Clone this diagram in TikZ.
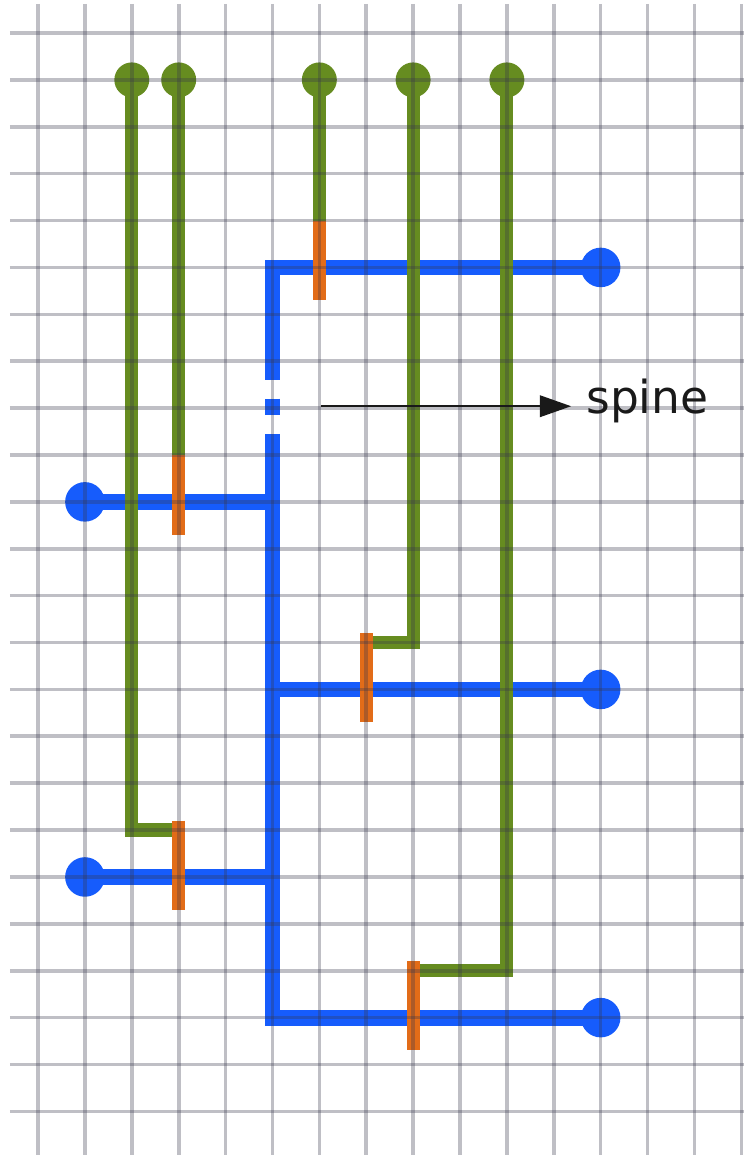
\documentclass[tikz,border=0pt]{standalone}
\usepackage{fontspec}
\setmainfont{DejaVu Sans}
\usetikzlibrary{arrows.meta}
\definecolor{wireblue}{RGB}{22,92,252}
\definecolor{wiregreen}{RGB}{102,140,32}
\definecolor{tickorange}{RGB}{226,108,24}
\definecolor{gridgray}{RGB}{55,55,75}
\tikzset{
  gridline/.style={draw=gridgray, opacity=0.32, line width=1.1pt},
  bpin/.style={circle, fill=wireblue, minimum size=12pt, inner sep=0pt},
  gpin/.style={circle, fill=wiregreen, minimum size=10.6pt, inner sep=0pt},
  wire/.style={draw=wireblue, line width=4.8pt, miter limit=4},
  trace/.style={draw=wiregreen, line width=4pt},
  tick/.style={draw=tickorange, line width=4pt},
  pointer/.style={-{Triangle[length=9.5pt,width=6.5pt]}, line width=0.7pt, draw=black!90},
  tag/.style={inner sep=0pt, font=\fontsize{13.8}{16}\selectfont, text=black!90}
}

\begin{document}
\begin{tikzpicture}[x=0.5cm,y=-0.5cm]
  \useasboundingbox (-0.811,-0.704) rectangle (15.05,23.93);
  % pins
  \node[bpin] (b1) at (12,5) {};
  \node[bpin] (b2) at (1,10) {};
  \node[bpin] (b3) at (12,14) {};
  \node[bpin] (b4) at (1,18) {};
  \node[bpin] (b5) at (12,21) {};
  \node[gpin] (g1) at (2,1) {};
  \node[gpin] (g2) at (3,1) {};
  \node[gpin] (g3) at (6,1) {};
  \node[gpin] (g4) at (8,1) {};
  \node[gpin] (g5) at (10,1) {};
  % spine points
  \coordinate (s0) at (5,5);
  \coordinate (s1) at (5,7.4);
  \coordinate (s2) at (5,7.8);
  \coordinate (s3) at (5,8.15);
  \coordinate (s4) at (5,8.55);
  \coordinate (s5) at (5,10);
  \coordinate (s6) at (5,14);
  \coordinate (s7) at (5,18);
  \coordinate (s8) at (5,21);
  \draw[wire] (b1.center) -- (s0) -- (s1);
  \draw[wire] (s2) -- (s3);
  \draw[wire] (s4) -- (s8) -- (b5.center);
  \draw[wire] (b2.center) -- (s5);
  \draw[wire] (s6) -- (b3.center);
  \draw[wire] (b4.center) -- (s7);
  % green traces
  \coordinate (k1) at (2,17);
  \coordinate (k4) at (8,13);
  \coordinate (k5) at (10,20);
  \draw[trace] (g1.center) -- (k1) -- (3,17);
  \draw[trace] (g2.center) -- (3,9);
  \draw[trace] (g3.center) -- (6,4);
  \draw[trace] (g4.center) -- (k4) -- (7,13);
  \draw[trace] (g5.center) -- (k5) -- (8,20);
  % orange ticks
  \draw[tick] (6,4) -- (6,5.7);
  \draw[tick] (3,9) -- (3,10.7);
  \draw[tick] (7,12.8) -- (7,14.7);
  \draw[tick] (3,16.8) -- (3,18.7);
  \draw[tick] (8,19.8) -- (8,21.7);
  % grid on top
  \foreach \c in {0,...,15}
    \draw[gridline] (\c,-0.62) -- (\c,23.95);
  \foreach \r in {0,...,23}
    \draw[gridline] (-0.6,\r) -- (15.1,\r);
  % label
  \node[tag, anchor=mid west] (lbl) at (11.68,7.93) {spine};
  \coordinate (tail) at (6.03,7.96);
  \draw[pointer, shorten >=4.4pt] (tail) -- (tail -| lbl.west);
\end{tikzpicture}
\end{document}
